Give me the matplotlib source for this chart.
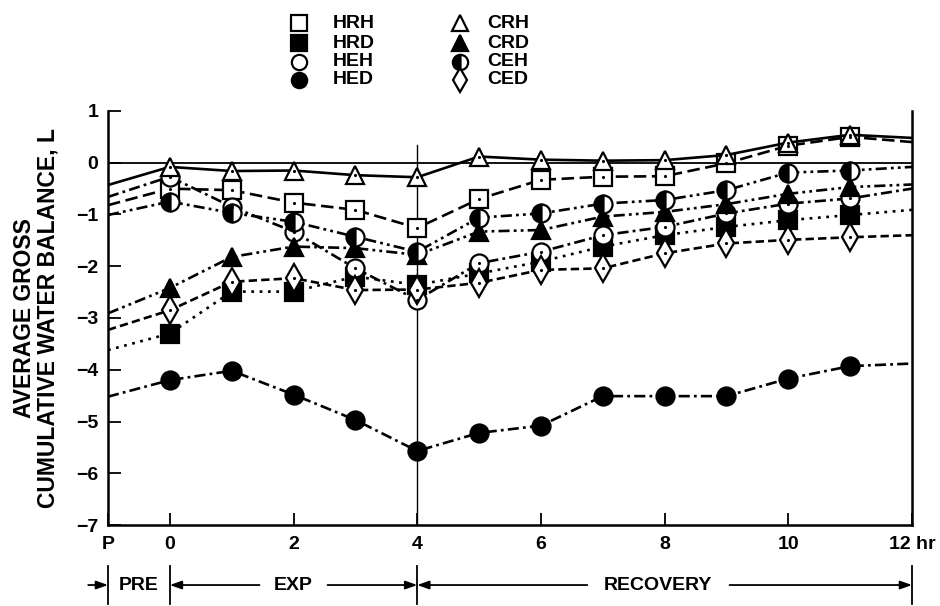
import matplotlib
matplotlib.use("Agg")
import matplotlib.pyplot as plt

plt.rcParams['font.family'] = ['Liberation Sans', 'DejaVu Sans']
plt.rcParams['font.weight'] = 'bold'
plt.rcParams['lines.scale_dashes'] = False

# time axis: P (pre) then hours 0..12
hour_pos = [-1, 0, 1, 2, 3, 4, 5, 6, 7, 8, 9, 10, 11, 12]
tick_pos = [-1, 0, 2, 4, 6, 8, 10, 12]
tick_labels = ['P', '0', '2', '4', '6', '8', '10', '12 hr']

# water balance (L), first value at P, last value where the line ends at 12 hr
hrh = [-0.82, -0.50, -0.53, -0.77, -0.91, -1.26, -0.70, -0.33, -0.27, -0.26, -0.01, 0.33, 0.50, 0.40]
hrd = [-3.62, -3.30, -2.49, -2.49, -2.20, -2.36, -2.14, -1.91, -1.62, -1.40, -1.24, -1.11, -1.01, -0.91]
heh = [-0.66, -0.27, -0.85, -1.33, -2.04, -2.65, -1.94, -1.72, -1.40, -1.24, -0.98, -0.79, -0.69, -0.50]
hed = [-4.52, -4.20, -4.02, -4.48, -4.97, -5.57, -5.22, -5.08, -4.51, -4.51, -4.51, -4.17, -3.93, -3.88]
crh = [-0.43, -0.08, -0.16, -0.15, -0.24, -0.28, 0.12, 0.06, 0.04, 0.05, 0.15, 0.39, 0.54, 0.48]
crd = [-2.91, -2.42, -1.82, -1.62, -1.65, -1.78, -1.33, -1.30, -1.04, -0.95, -0.80, -0.60, -0.47, -0.42]
ceh = [-1.01, -0.75, -0.97, -1.14, -1.43, -1.72, -1.06, -0.98, -0.79, -0.72, -0.53, -0.19, -0.15, -0.08]
ced = [-3.23, -2.85, -2.30, -2.23, -2.46, -2.45, -2.32, -2.07, -2.04, -1.75, -1.56, -1.49, -1.44, -1.40]

dash_dot = (0, (8, 3, 2, 3))
dash_dot_dot = (0, (8, 3, 2, 3, 2, 3))

# name, values, marker, face, line style, center dot
series = [
    ('HRH', hrh, 's', 'white', (0, (9, 4)), True),
    ('HRD', hrd, 's', 'black', (0, (2, 4)), False),
    ('HEH', heh, 'o', 'white', dash_dot, True),
    ('HED', hed, 'o', 'black', dash_dot, False),
    ('CRH', crh, '^', 'white', '-', True),
    ('CRD', crd, '^', 'black', dash_dot_dot, False),
    ('CEH', ceh, 'o', 'half', dash_dot_dot, False),
    ('CED', ced, 'd', 'white', (0, (6, 3)), True),
]


def marker_style(mk, face, ms):
    kw = dict(marker=mk, markersize=ms, markeredgecolor='black', markeredgewidth=1.6)
    if face == 'half':
        kw.update(markerfacecolor='black', markerfacecoloralt='white', fillstyle='left')
    else:
        kw.update(markerfacecolor=face)
    return kw


fig = plt.figure(figsize=(9.4, 6.06), dpi=100)
ax = fig.add_axes([108 / 940, 1 - 525 / 606, 804 / 940, 414 / 606])

ax.axhline(0, color='black', lw=1.3, zorder=1)
ax.plot([4, 4], [-7, 0.35], color='black', lw=1.0, zorder=1)

for name, vals, mk, face, ls, dot in series:
    ms = 14 if mk == 'd' else 13
    ax.plot(hour_pos, vals, color='black', lw=1.9, linestyle=ls,
            markevery=slice(1, 13), zorder=3, **marker_style(mk, face, ms))
    if dot:
        ax.plot(hour_pos[1:13], vals[1:13], linestyle='none', marker='.',
                markersize=2.5, color='black', zorder=4)

ax.set_xlim(-1, 12)
ax.set_ylim(-7, 1)
ax.set_xticks(tick_pos)
ax.set_xticklabels(tick_labels)
ax.set_yticks(range(-7, 2))
ax.tick_params(axis='both', direction='in', length=9, width=1.3, labelsize=14)
ax.tick_params(axis='x', pad=8)
ax.tick_params(axis='y', pad=7)
for lab in ax.get_xticklabels() + ax.get_yticklabels():
    lab.set_fontweight('bold')
ax.spines['top'].set_visible(False)
for s in ['left', 'bottom', 'right']:
    ax.spines[s].set_linewidth(1.8)

fig.text(36 / 940, 1 - 318 / 606, 'AVERAGE GROSS\nCUMULATIVE WATER BALANCE, L',
         rotation=90, ha='center', va='center', fontsize=16.5, fontweight='bold',
         linespacing=1.05, multialignment='center')

# legend drawn in figure pixel space: two columns of four
lax = fig.add_axes([0, 0, 1, 1])
lax.set_xlim(0, 940)
lax.set_ylim(606, 0)
lax.axis('off')
row_y = [23, 43, 62, 80]
col_marker_x = [299, 460]
col_text_x = [333, 487]
for i, (name, vals, mk, face, ls, dot) in enumerate(series):
    c, r = divmod(i, 4)
    ms = 12 if mk == 'd' else 11
    lax.plot([col_marker_x[c]], [row_y[r]], linestyle='none', **marker_style(mk, face, ms))
    lax.text(col_text_x[c], row_y[r], name, ha='left', va='center', fontsize=14,
             fontweight='bold')

# phase annotations below the axis
tr = ax.get_xaxis_transform()
y_arr = -0.145
for xb in [-1, 0, 4, 12]:
    ax.plot([xb, xb], [-0.1, -0.19], transform=tr, color='black', lw=1.3, clip_on=False)
arrow_kw = dict(arrowstyle='-|>,head_length=0.7,head_width=0.25', color='black', lw=1.3,
                shrinkA=0, shrinkB=0)
for x0, x1 in [(-1.32, -1), (1.45, 0), (2.55, 4), (6.75, 4), (9.05, 12)]:
    ax.annotate('', xy=(x1, y_arr), xytext=(x0, y_arr), xycoords=tr, textcoords=tr,
                arrowprops=arrow_kw, annotation_clip=False)
for xt, txt in [(-0.5, 'PRE'), (2, 'EXP'), (7.9, 'RECOVERY')]:
    ax.text(xt, y_arr, txt, transform=tr, ha='center', va='center', fontsize=14,
            fontweight='bold')

fig.savefig('out.png', dpi=100)
